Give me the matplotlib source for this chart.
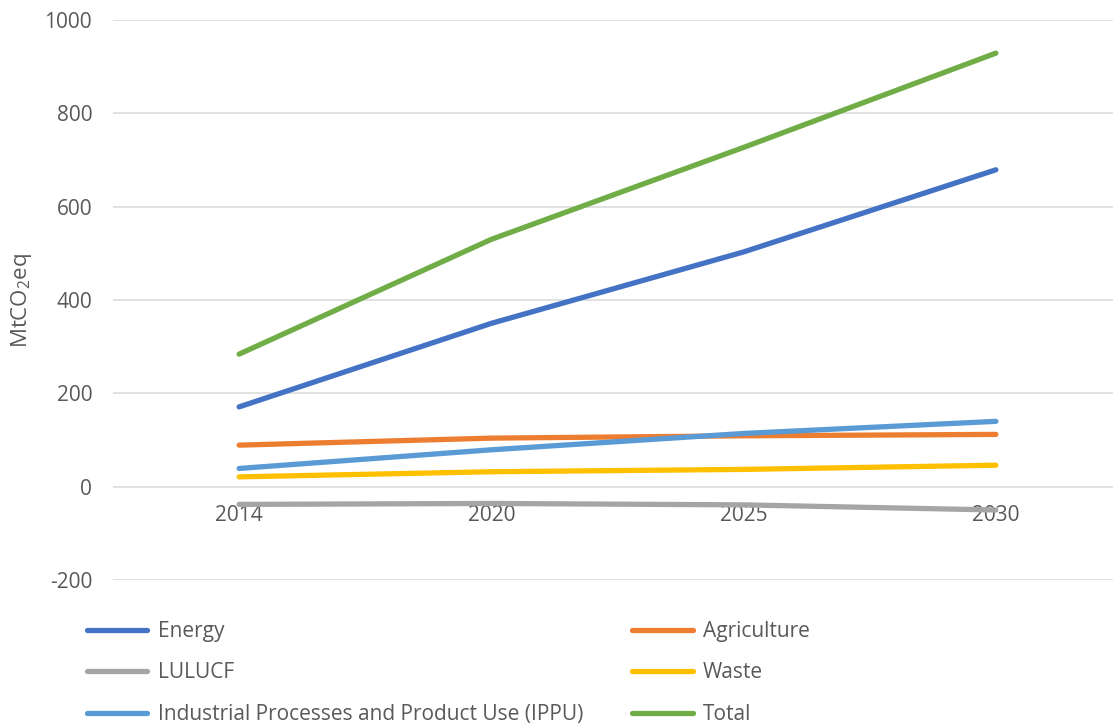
import matplotlib
matplotlib.use("Agg")
import matplotlib.pyplot as plt

years = ["2014", "2020", "2025", "2030"]
energy = [171, 350, 503, 679]
agriculture = [89, 104, 109, 112]
lulucf = [-38, -36, -39, -50]
waste = [21, 32, 37, 46]
ippu = [39, 79, 114, 140]
total = [284, 530, 727, 929]

series_names = ["Energy", "Agriculture", "LULUCF", "Waste",
                "Industrial Processes and Product Use (IPPU)", "Total"]
series_values = [energy, agriculture, lulucf, waste, ippu, total]
colors = ["#4472C4", "#ED7D31", "#A5A5A5", "#FFC000", "#5B9BD5", "#70AD47"]

plt.rcParams['font.family'] = ['Open Sans', 'DejaVu Sans']
plt.rcParams['mathtext.fontset'] = 'custom'
plt.rcParams['mathtext.rm'] = 'Open Sans'
text_color = "#595959"
fs = 15

fig = plt.figure(figsize=(11.13, 7.27), dpi=100)
ax = fig.add_axes([113/1113, 147/727, 1009/1113, 560/727])

x = list(range(len(years)))
handles = []
for name, vals, c in zip(series_names, series_values, colors):
    ln, = ax.plot(x, vals, color=c, lw=3.8, solid_capstyle='round',
                  solid_joinstyle='round', label=name)
    handles.append(ln)

ax.set_xlim(-0.5, 3.5)
ax.set_ylim(-200, 1000)
ax.set_yticks(range(-200, 1001, 200))
ax.set_yticklabels([str(v) for v in range(-200, 1001, 200)])
ax.grid(axis='y', color='#D9D9D9', lw=1.1)
ax.set_axisbelow(True)
for s in ax.spines.values():
    s.set_visible(False)
ax.spines['bottom'].set_position(('data', 0))
ax.set_xticks(x)
ax.set_xticklabels(years)
ax.tick_params(axis='both', length=0, labelsize=fs, colors=text_color)
ax.tick_params(axis='y', pad=15)
ax.tick_params(axis='x', pad=13)

fig.text(22/1113, 1 - 300/727, r"MtCO$_\mathregular{2}$eq", rotation=90,
         ha='center', va='center', fontsize=16, color=text_color)

col1 = [handles[0], handles[2], handles[4]]
col2 = [handles[1], handles[3], handles[5]]
leg_h = col1 + col2
leg = fig.legend(leg_h, [h.get_label() for h in leg_h], ncol=2,
                 loc='upper left', bbox_to_anchor=(87/1113, 1 - 621/727),
                 frameon=False, fontsize=fs, handlelength=2.9,
                 handletextpad=0.5, columnspacing=2.35, labelspacing=0.98,
                 borderpad=0, borderaxespad=0)
for t in leg.get_texts():
    t.set_color(text_color)

fig.savefig("out.png", dpi=100)
